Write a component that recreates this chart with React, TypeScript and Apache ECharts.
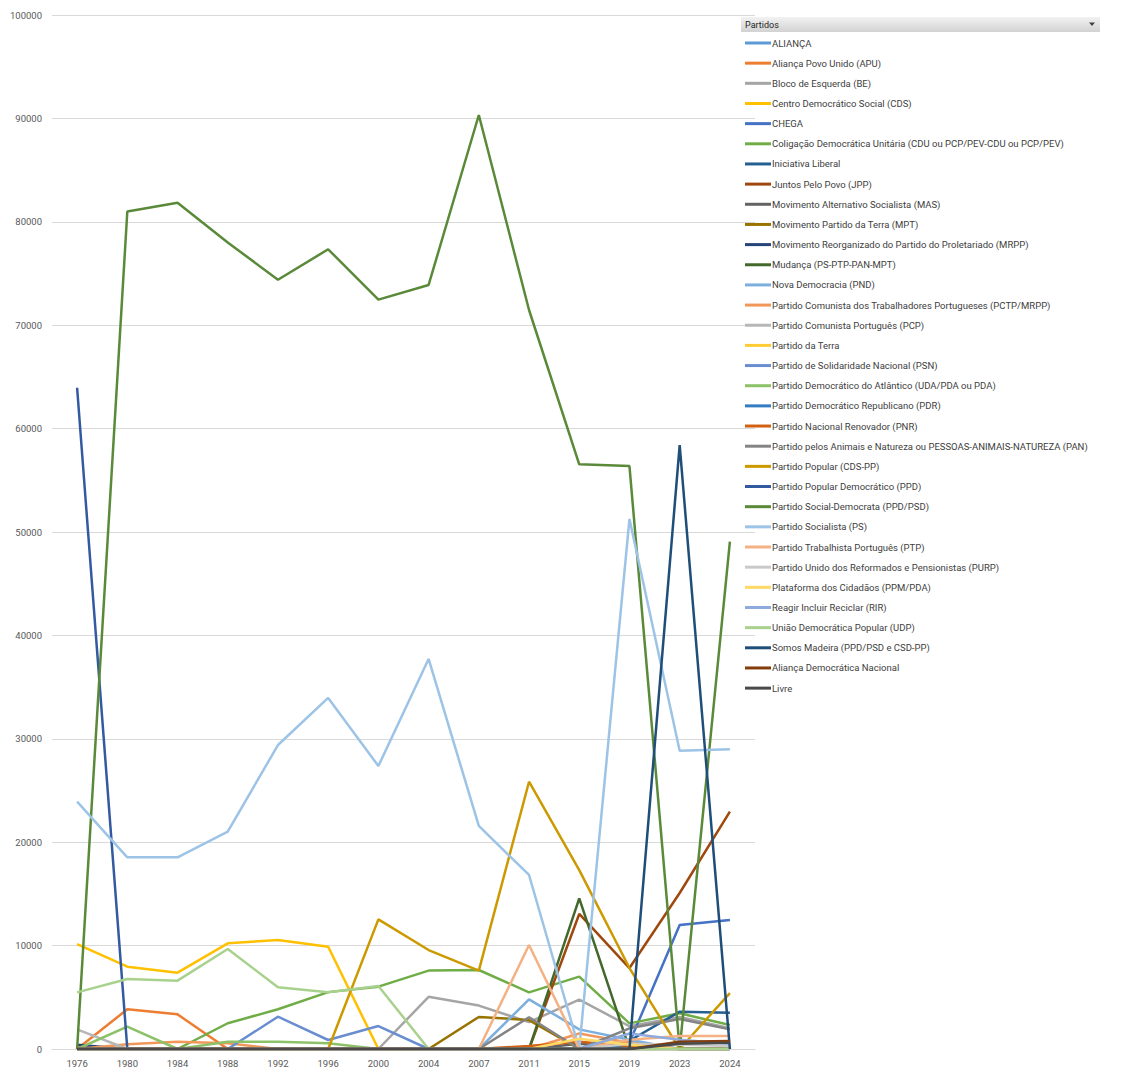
import React, { useEffect, useRef } from "react";
import * as echarts from "echarts";

const years = ["1976", "1980", "1984", "1988", "1992", "1996", "2000", "2004", "2007", "2011", "2015", "2019", "2023", "2024"];

const partyNames = [
  "ALIANÇA",
  "Aliança Povo Unido (APU)",
  "Bloco de Esquerda (BE)",
  "Centro Democrático Social (CDS)",
  "CHEGA",
  "Coligação Democrática Unitária (CDU ou PCP/PEV-CDU ou PCP/PEV)",
  "Iniciativa Liberal",
  "Juntos Pelo Povo (JPP)",
  "Movimento Alternativo Socialista (MAS)",
  "Movimento Partido da Terra (MPT)",
  "Movimento Reorganizado do Partido do Proletariado (MRPP)",
  "Mudança (PS-PTP-PAN-MPT)",
  "Nova Democracia (PND)",
  "Partido Comunista dos Trabalhadores Portugueses (PCTP/MRPP)",
  "Partido Comunista Português (PCP)",
  "Partido da Terra",
  "Partido de Solidaridade Nacional (PSN)",
  "Partido Democrático do Atlântico (UDA/PDA ou PDA)",
  "Partido Democrático Republicano (PDR)",
  "Partido Nacional Renovador (PNR)",
  "Partido pelos Animais e Natureza ou PESSOAS-ANIMAIS-NATUREZA (PAN)",
  "Partido Popular (CDS-PP)",
  "Partido Popular Democrático (PPD)",
  "Partido Social-Democrata (PPD/PSD)",
  "Partido Socialista (PS)",
  "Partido Trabalhista Português (PTP)",
  "Partido Unido dos Reformados e Pensionistas (PURP)",
  "Plataforma dos Cidadãos (PPM/PDA)",
  "Reagir Incluir Reciclar (RIR)",
  "União Democrática Popular (UDP)",
  "Somos Madeira (PPD/PSD e CSD-PP)",
  "Aliança Democrática Nacional",
  "Livre",
];

// votes per year, in the order of `years`
const alianca = [0, 0, 0, 0, 0, 0, 0, 0, 0, 0, 0, 700, 0, 0];
const apu = [0, 3840, 3350, 0, 0, 0, 0, 0, 0, 0, 0, 0, 0, 0];
const be = [0, 0, 0, 0, 0, 0, 0, 5050, 4200, 2600, 4780, 2200, 3100, 2000];
const cds = [10150, 7960, 7380, 10220, 10540, 9890, 0, 0, 0, 0, 0, 0, 0, 0];
const chega = [0, 0, 0, 0, 0, 0, 0, 0, 0, 0, 0, 620, 11990, 12480];
const cdu = [0, 0, 0, 2490, 3840, 5500, 6030, 7580, 7640, 5480, 7000, 2480, 3450, 2320];
const il = [0, 0, 0, 0, 0, 0, 0, 0, 0, 0, 0, 800, 3610, 3510];
const jpp = [0, 0, 0, 0, 0, 0, 0, 0, 0, 0, 13060, 7830, 15090, 22950];
const mas = [0, 0, 0, 0, 0, 0, 0, 0, 0, 0, 500, 300, 0, 0];
const mpt = [0, 0, 0, 0, 0, 0, 0, 0, 3100, 2800, 0, 400, 0, 0];
const mrpp = [400, 0, 0, 0, 0, 0, 0, 0, 0, 0, 0, 0, 0, 0];
const mudanca = [0, 0, 0, 0, 0, 0, 0, 0, 0, 0, 14570, 0, 0, 0];
const pnd = [0, 0, 0, 0, 0, 0, 0, 0, 0, 4800, 1900, 900, 0, 0];
const pctp = [0, 450, 700, 550, 0, 0, 0, 0, 0, 0, 1500, 600, 0, 0];
const pcp = [1900, 0, 0, 0, 0, 0, 0, 0, 0, 0, 0, 0, 0, 0];
const pdt = [0, 0, 0, 0, 0, 0, 0, 0, 0, 0, 0, 0, 0, 0];
const psn = [0, 0, 0, 0, 3120, 870, 2220, 0, 0, 0, 0, 0, 0, 0];
const pda = [0, 2160, 0, 700, 700, 550, 0, 0, 0, 0, 0, 0, 0, 0];
const pdr = [0, 0, 0, 0, 0, 0, 0, 0, 0, 0, 0, 300, 0, 0];
const pnr = [0, 0, 0, 0, 0, 0, 0, 0, 0, 300, 700, 300, 0, 0];
const pan = [0, 0, 0, 0, 0, 0, 0, 0, 0, 3070, 0, 2000, 2900, 1900];
const cdspp = [0, 0, 0, 0, 0, 0, 12540, 9570, 7580, 25850, 17300, 7830, 0, 5410];
const ppd = [63950, 0, 0, 0, 0, 0, 0, 0, 0, 0, 0, 0, 0, 0];
const psd = [0, 81000, 81850, 78000, 74400, 77340, 72470, 73890, 90330, 71470, 56550, 56380, 0, 49060];
const ps = [23920, 18540, 18540, 21020, 29400, 33950, 27370, 37720, 21570, 16830, 0, 51260, 28850, 28990];
const ptp = [0, 0, 0, 0, 0, 0, 0, 0, 0, 10060, 0, 900, 1260, 1260];
const purp = [0, 0, 0, 0, 0, 0, 0, 0, 0, 0, 0, 500, 400, 300];
const ppmpda = [0, 0, 0, 0, 0, 0, 0, 0, 0, 0, 1000, 400, 0, 0];
const rir = [0, 0, 0, 0, 0, 0, 0, 0, 0, 0, 0, 1500, 900, 500];
const udp = [5480, 6770, 6610, 9670, 5970, 5480, 6100, 0, 0, 0, 0, 0, 0, 0];
const somos = [0, 0, 0, 0, 0, 0, 0, 0, 0, 0, 0, 0, 58410, 0];
const adn = [0, 0, 0, 0, 0, 0, 0, 0, 0, 0, 0, 0, 710, 770];
const livre = [0, 0, 0, 0, 0, 0, 0, 0, 0, 0, 0, 0, 500, 600];

const seriesValues = [
  alianca, apu, be, cds, chega, cdu, il, jpp, mas, mpt, mrpp, mudanca, pnd, pctp, pcp, pdt,
  psn, pda, pdr, pnr, pan, cdspp, ppd, psd, ps, ptp, purp, ppmpda, rir, udp, somos, adn, livre,
];

const colors = [
  "#5B9BD5", "#ED7D31", "#A5A5A5", "#FFC000", "#4472C4", "#70AD47",
  "#255E91", "#9E480E", "#636363", "#997300", "#264478", "#43682B",
  "#7CAFDD", "#F1975A", "#B7B7B7", "#FFCD33", "#698ED0", "#8CC168",
  "#327DC2", "#D26012", "#848484", "#CC9A00", "#335AA1", "#5A8A39",
  "#9DC3E6", "#F4B183", "#C9C9C9", "#FFD966", "#8FAADC", "#A9D18E",
  "#1F4E79", "#843C0C", "#4A4A4A",
];

const yTicks = { min: 0, max: 100000, interval: 10000 };

export default function App() {
  const ref = useRef<HTMLDivElement>(null);
  useEffect(() => {
    document.body.style.margin = "0";
    if (!ref.current) return;
    const chart = echarts.init(ref.current, undefined, { renderer: "svg" });
    const font = "Roboto";
    chart.setOption({
      animation: false,
      color: colors,
      textStyle: { fontFamily: font },
      grid: { left: 52, top: 15, width: 703, bottom: 21, containLabel: false },
      xAxis: {
        type: "category",
        data: years,
        boundaryGap: true,
        axisTick: { show: false },
        axisLine: { lineStyle: { color: "#d9d9d9", width: 1 } },
        axisLabel: { color: "#595959", fontSize: 9.5, margin: 9, fontFamily: font },
      },
      yAxis: {
        type: "value",
        min: yTicks.min,
        max: yTicks.max,
        interval: yTicks.interval,
        axisLine: { show: false },
        axisTick: { show: false },
        axisLabel: {
          color: "#595959",
          fontSize: 9.5,
          margin: 10,
          fontFamily: font,
          formatter: (v: number) => String(v),
        },
        splitLine: { lineStyle: { color: "#d9d9d9", width: 1 } },
      },
      legend: {
        type: "plain",
        orient: "vertical",
        left: 745,
        top: 36,
        padding: 0,
        itemWidth: 26,
        itemHeight: 3,
        itemGap: 6.16,
        icon: "rect",
        selectedMode: false,
        textStyle: {
          color: "#404040",
          fontSize: 9.5,
          lineHeight: 14,
          fontFamily: font,
          padding: [0, 0, 0, -4],
        },
        data: partyNames,
      },
      graphic: [
        {
          type: "rect",
          shape: { x: 741, y: 17, width: 359, height: 15 },
          style: {
            fill: {
              type: "linear", x: 0, y: 0, x2: 0, y2: 1,
              colorStops: [
                { offset: 0, color: "#f2f2f2" },
                { offset: 1, color: "#d2d2d2" },
              ],
            },
          },
          z: 10,
        },
        {
          type: "text",
          x: 745,
          y: 24.5,
          style: { text: "Partidos", fontSize: 9, fill: "#262626", fontFamily: font, verticalAlign: "middle" },
          z: 11,
        },
        {
          type: "polygon",
          shape: { points: [[1089, 22.5], [1095, 22.5], [1092, 26]] },
          style: { fill: "#404040" },
          z: 11,
        },
      ],
      series: partyNames.map((name, i) => ({
        name,
        type: "line",
        data: seriesValues[i],
        showSymbol: false,
        symbol: "none",
        lineStyle: { width: 2.5, color: colors[i] },
        itemStyle: { color: colors[i] },
      })),
    });
    return () => chart.dispose();
  }, []);
  return <div ref={ref} style={{ width: 1131, height: 1070 }} />;
}
